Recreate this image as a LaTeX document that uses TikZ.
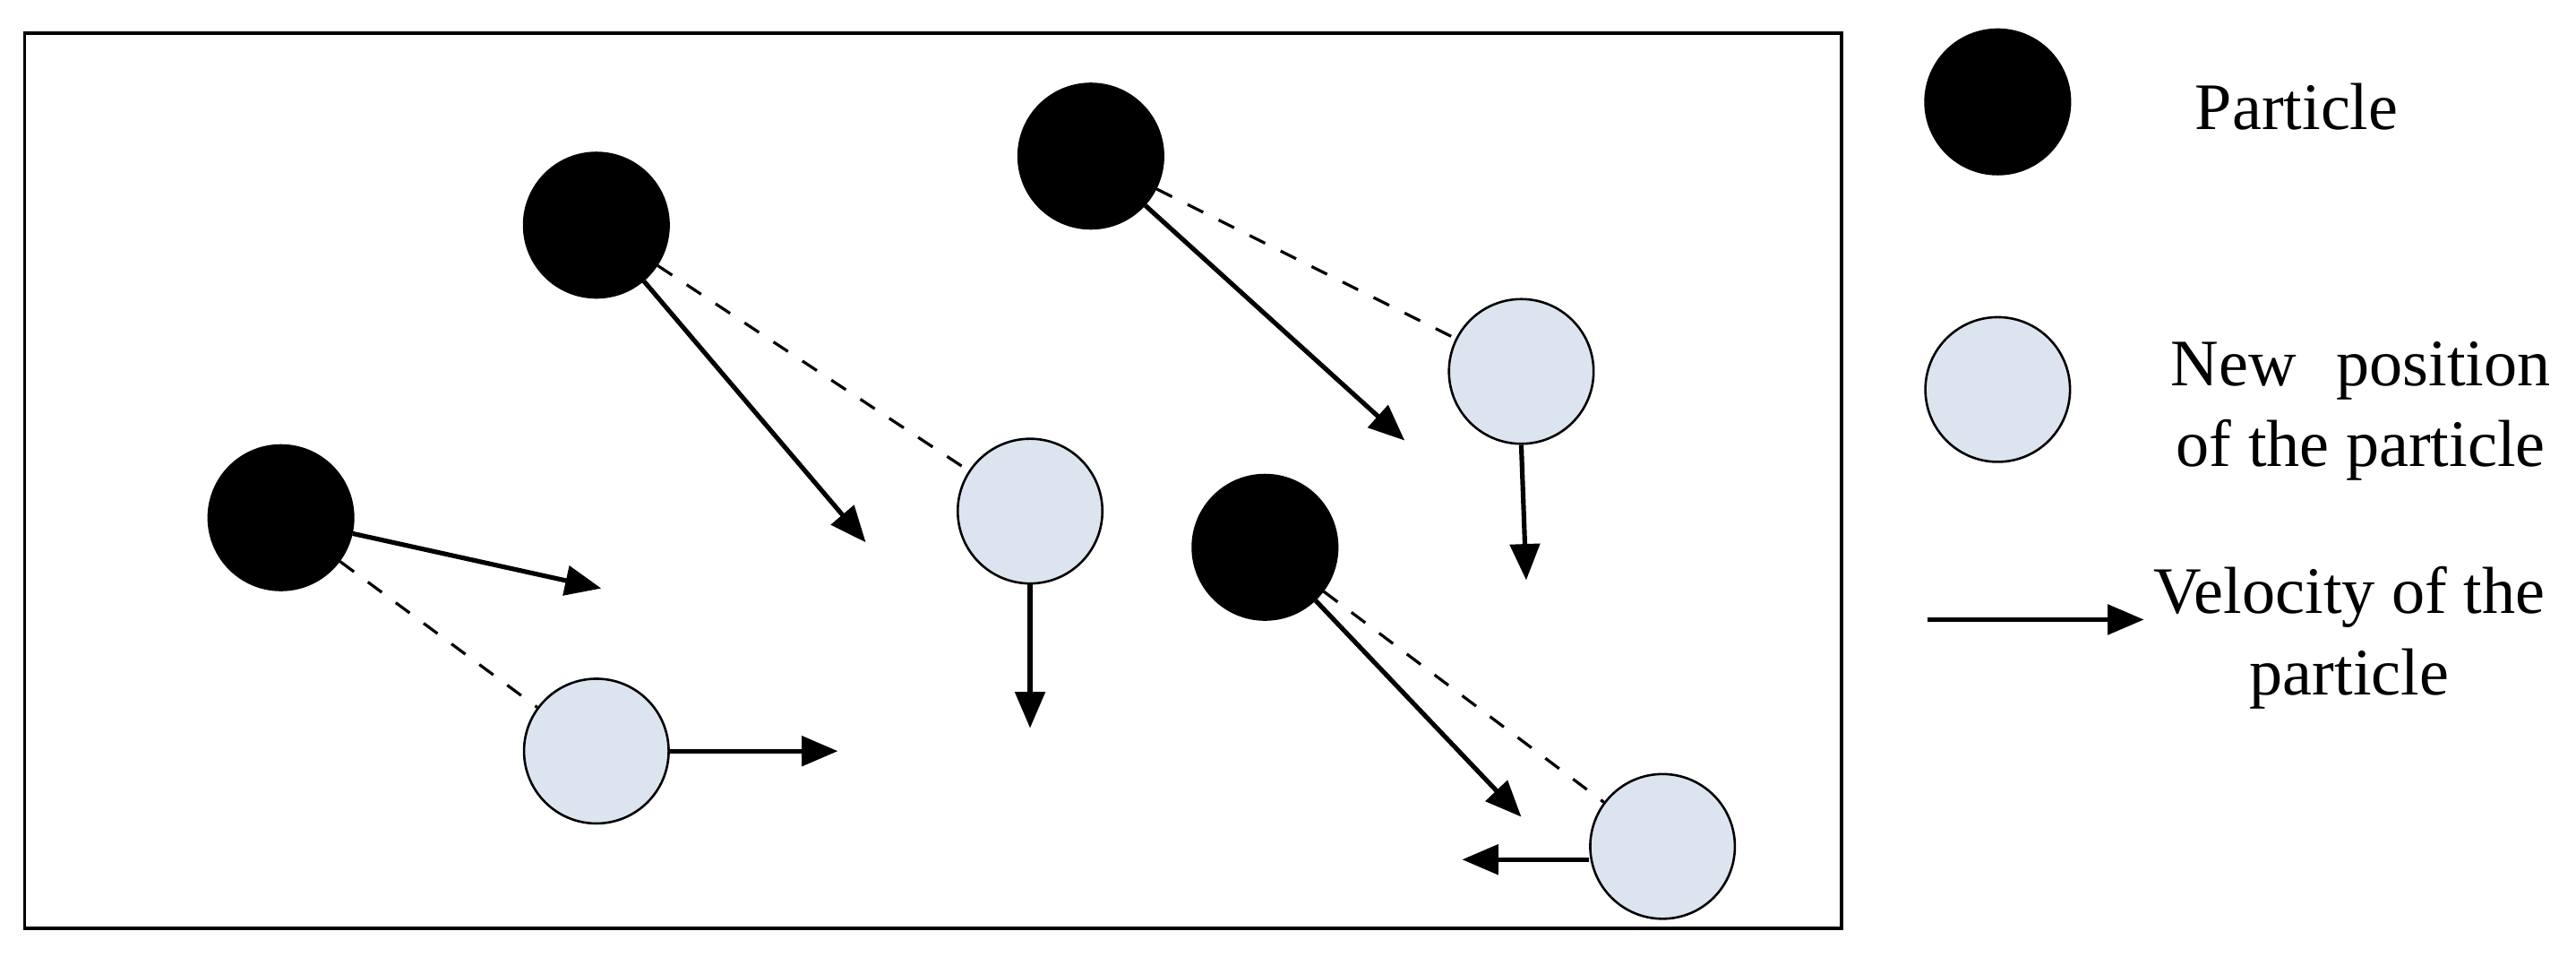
\documentclass[tikz,border=0pt]{standalone}
\usepackage{fontspec}
\setmainfont{Liberation Serif}
\usetikzlibrary{arrows.meta}
\begin{document}
\begin{tikzpicture}[x=0.01cm,y=-0.01cm,
  old/.style={circle,fill=black,draw=black,minimum size=0.88cm,inner sep=0pt},
  new/.style={circle,fill=blue!12!gray!15,fill={rgb,255:red,220;green,228;blue,240},draw=black,minimum size=0.88cm,inner sep=0pt},
  vel/.style={-{Triangle[length=0.22cm,width=0.18cm]},line width=0.8pt},
  dsh/.style={dashed,line width=0.5pt},
  lbl/.style={font=\fontsize{11.5}{14}\selectfont,align=center,inner sep=0pt}]
\useasboundingbox (0,0) rectangle (1568,582);
\draw[line width=0.6pt] (15,20) rectangle (1121,565);
\node[old] (A) at (363,137) {};
\node[old] (B) at (664,95) {};
\node[old] (C) at (171,315) {};
\node[old] (D) at (770,333) {};
\node[new] (A2) at (627,311) {};
\node[new] (B2) at (926,226) {};
\node[new] (C2) at (363,457) {};
\node[new] (D2) at (1012,515) {};
\coordinate (a) at (527,330); \coordinate (b) at (855,268);
\coordinate (c) at (366,358); \coordinate (d) at (926,497);
\coordinate (a2) at (627,443); \coordinate (b2) at (929,353);
\coordinate (c2) at (510,457); \coordinate (d2) at (890,523);
\draw[vel] (A) -- (a); \draw[vel] (B) -- (b);
\draw[vel] (C) -- (c); \draw[vel] (D) -- (d);
\draw[vel] (A2) -- (a2); \draw[vel] (B2.south) -- (b2);
\draw[vel] (C2) -- (c2); \draw[vel] (D2.west |- d2) -- (d2);
\draw[dsh] (A) -- (A2); \draw[dsh] (B) -- (B2);
\draw[dsh] (C) -- (C2); \draw[dsh] (D) -- (D2);
% legend
\node[old] (L1) at (1216,62) {};
\node[new] (L2) at (1216,237) {};
\coordinate (l3a) at (1173,377); \coordinate (l3b) at (1305,377);
\draw[vel] (l3a) -- (l3b);
\node[lbl] (t1) at (1398,65) {Particle};
\node[lbl] (t2) at (1437,250) {New\hspace{0.6em}position\\of the particle};
\node[lbl] (t3) at (1430,388) {Velocity of the\\particle};
\end{tikzpicture}
\end{document}
